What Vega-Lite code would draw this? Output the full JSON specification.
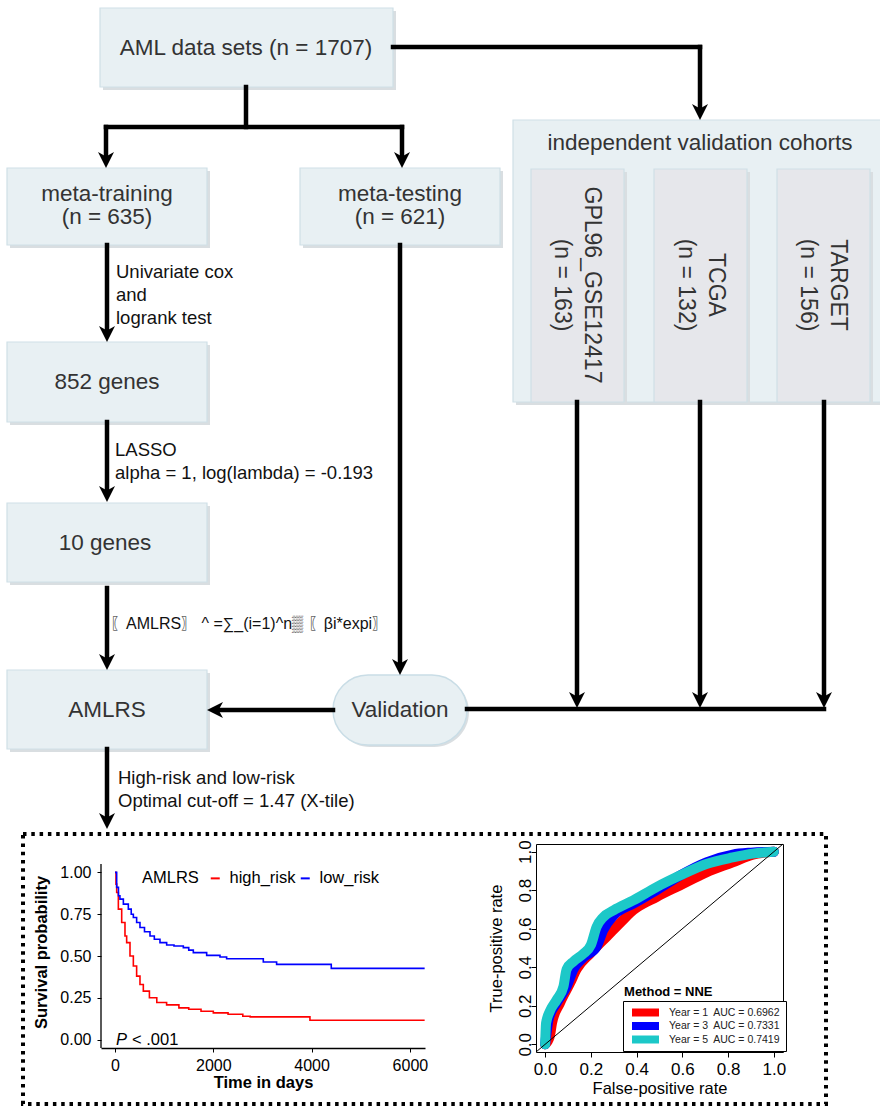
{
  "$schema": "https://vega.github.io/schema/vega-lite/v6.json",
  "padding": 0,
  "background": "white",
  "spacing": 0,
  "bounds": "flush",
  "resolve": {"scale": {"color": "independent", "fill": "independent", "shape": "independent"}, "legend": {"color": "independent"}},
  "config": {
    "view": {"stroke": null},
    "font": "Liberation Sans",
    "axis": {"grid": false, "labelFont": "Liberation Sans", "titleFont": "Liberation Sans"},
    "legend": {"labelFont": "Liberation Sans", "titleFont": "Liberation Sans"}
  },
  "datasets": {
    "container": [
      {"x": 513, "x2": 884, "y": 120, "y2": 402}
    ],
    "boxes": [
      {"kind": "box", "x": 100, "x2": 393, "y": 8, "y2": 87},
      {"kind": "box", "x": 7, "x2": 207, "y": 168, "y2": 245},
      {"kind": "box", "x": 300, "x2": 500, "y": 168, "y2": 245},
      {"kind": "box", "x": 7, "x2": 207, "y": 342, "y2": 422},
      {"kind": "box", "x": 7, "x2": 207, "y": 503, "y2": 582},
      {"kind": "box", "x": 7, "x2": 207, "y": 670, "y2": 749},
      {"kind": "cohort", "x": 531, "x2": 624, "y": 169, "y2": 402},
      {"kind": "cohort", "x": 654, "x2": 747, "y": 169, "y2": 402},
      {"kind": "cohort", "x": 777, "x2": 870, "y": 169, "y2": 402}
    ],
    "pill": [{"x": 333, "x2": 467, "y": 675, "y2": 745}],
    "frame": [{"x": 23, "x2": 826, "y": 834, "y2": 1104}],
    "edges": [
      {"x": 246, "y": 87, "x2": 246, "y2": 127},
      {"x": 106, "y": 127, "x2": 402, "y2": 127},
      {"x": 106, "y": 127, "x2": 106, "y2": 160},
      {"x": 402, "y": 127, "x2": 402, "y2": 160},
      {"x": 393, "y": 47, "x2": 700, "y2": 47},
      {"x": 700, "y": 47, "x2": 700, "y2": 112},
      {"x": 107, "y": 245, "x2": 107, "y2": 334},
      {"x": 107, "y": 422, "x2": 107, "y2": 494},
      {"x": 107, "y": 588, "x2": 107, "y2": 662},
      {"x": 107, "y": 749, "x2": 107, "y2": 821},
      {"x": 400, "y": 245, "x2": 400, "y2": 667},
      {"x": 333, "y": 710, "x2": 215, "y2": 710},
      {"x": 467, "y": 709, "x2": 824, "y2": 709},
      {"x": 577, "y": 402, "x2": 577, "y2": 700},
      {"x": 700, "y": 402, "x2": 700, "y2": 700},
      {"x": 824, "y": 402, "x2": 824, "y2": 700}
    ],
    "arrows": [
      {"x": 106, "y": 160, "dir": "down"},
      {"x": 402, "y": 160, "dir": "down"},
      {"x": 700, "y": 112, "dir": "down"},
      {"x": 107, "y": 334, "dir": "down"},
      {"x": 107, "y": 494, "dir": "down"},
      {"x": 107, "y": 662, "dir": "down"},
      {"x": 107, "y": 821, "dir": "down"},
      {"x": 400, "y": 667, "dir": "down"},
      {"x": 577, "y": 700, "dir": "down"},
      {"x": 700, "y": 700, "dir": "down"},
      {"x": 824, "y": 700, "dir": "down"},
      {"x": 215, "y": 710, "dir": "left"}
    ],
    "boxtext": [
      {"x": 246, "y": 48, "label": "AML data sets (n = 1707)"},
      {"x": 107, "y": 193.5, "label": "meta-training\n(n = 635)"},
      {"x": 400, "y": 193.5, "label": "meta-testing\n(n = 621)"},
      {"x": 700, "y": 143, "label": "independent validation cohorts"},
      {"x": 107, "y": 382, "label": "852 genes"},
      {"x": 105, "y": 543, "label": "10 genes"},
      {"x": 107, "y": 710, "label": "AMLRS"},
      {"x": 400, "y": 710, "label": "Validation"}
    ],
    "rottext": [
      {"x": 592, "y": 285, "label": "GPL96_GSE12417\n(n = 163)"},
      {"x": 716, "y": 285, "label": "TCGA\n(n = 132)"},
      {"x": 838, "y": 285, "label": "TARGET\n(n = 156)"}
    ],
    "edgetext": [
      {"x": 116, "y": 272, "label": "Univariate cox\nand\nlogrank test"},
      {"x": 115, "y": 450, "label": "LASSO\nalpha = 1, log(lambda) = -0.193"},
      {"x": 118, "y": 778, "label": "High-risk and low-risk\nOptimal cut-off = 1.47 (X-tile)"}
    ],
    "formula": [
      {"x": 110, "y": 624, "label": "〖AMLRS〗 ^ =∑_(i=1)^n▒ 〖βi*expi〗"}
    ],
    "km": [
      {"group": "high_risk", "time": 0, "surv": 1.0},
      {"group": "high_risk", "time": 20, "surv": 0.93},
      {"group": "high_risk", "time": 34, "surv": 0.88},
      {"group": "high_risk", "time": 68, "surv": 0.78},
      {"group": "high_risk", "time": 136, "surv": 0.70},
      {"group": "high_risk", "time": 203, "surv": 0.62},
      {"group": "high_risk", "time": 237, "surv": 0.58},
      {"group": "high_risk", "time": 305, "surv": 0.50},
      {"group": "high_risk", "time": 373, "surv": 0.44},
      {"group": "high_risk", "time": 440, "surv": 0.38},
      {"group": "high_risk", "time": 508, "surv": 0.33},
      {"group": "high_risk", "time": 576, "surv": 0.29},
      {"group": "high_risk", "time": 700, "surv": 0.25},
      {"group": "high_risk", "time": 850, "surv": 0.222},
      {"group": "high_risk", "time": 1050, "surv": 0.208},
      {"group": "high_risk", "time": 1300, "surv": 0.19},
      {"group": "high_risk", "time": 1500, "surv": 0.182},
      {"group": "high_risk", "time": 1750, "surv": 0.17},
      {"group": "high_risk", "time": 2000, "surv": 0.16},
      {"group": "high_risk", "time": 2300, "surv": 0.152},
      {"group": "high_risk", "time": 2600, "surv": 0.14},
      {"group": "high_risk", "time": 2750, "surv": 0.136},
      {"group": "high_risk", "time": 3966, "surv": 0.116},
      {"group": "high_risk", "time": 6300, "surv": 0.116},
      {"group": "low_risk", "time": 0, "surv": 1.0},
      {"group": "low_risk", "time": 34, "surv": 0.91},
      {"group": "low_risk", "time": 70, "surv": 0.86},
      {"group": "low_risk", "time": 100, "surv": 0.84},
      {"group": "low_risk", "time": 170, "surv": 0.81},
      {"group": "low_risk", "time": 271, "surv": 0.78},
      {"group": "low_risk", "time": 330, "surv": 0.75},
      {"group": "low_risk", "time": 373, "surv": 0.73},
      {"group": "low_risk", "time": 440, "surv": 0.70},
      {"group": "low_risk", "time": 508, "surv": 0.67},
      {"group": "low_risk", "time": 600, "surv": 0.645},
      {"group": "low_risk", "time": 712, "surv": 0.62},
      {"group": "low_risk", "time": 800, "surv": 0.60},
      {"group": "low_risk", "time": 915, "surv": 0.58},
      {"group": "low_risk", "time": 1051, "surv": 0.566},
      {"group": "low_risk", "time": 1200, "surv": 0.56},
      {"group": "low_risk", "time": 1390, "surv": 0.55},
      {"group": "low_risk", "time": 1500, "surv": 0.535},
      {"group": "low_risk", "time": 1593, "surv": 0.52},
      {"group": "low_risk", "time": 1865, "surv": 0.504},
      {"group": "low_risk", "time": 2136, "surv": 0.494},
      {"group": "low_risk", "time": 2271, "surv": 0.484},
      {"group": "low_risk", "time": 3017, "surv": 0.464},
      {"group": "low_risk", "time": 3288, "surv": 0.45},
      {"group": "low_risk", "time": 4400, "surv": 0.426},
      {"group": "low_risk", "time": 6300, "surv": 0.426}
    ],
    "roc": [
      {"year": "Year = 1\u00a0 AUC = 0.6962", "fpr": 0, "tpr": 0},
      {"year": "Year = 1\u00a0 AUC = 0.6962", "fpr": 0.02, "tpr": 0.04},
      {"year": "Year = 1\u00a0 AUC = 0.6962", "fpr": 0.03, "tpr": 0.11},
      {"year": "Year = 1\u00a0 AUC = 0.6962", "fpr": 0.065, "tpr": 0.215},
      {"year": "Year = 1\u00a0 AUC = 0.6962", "fpr": 0.11, "tpr": 0.32},
      {"year": "Year = 1\u00a0 AUC = 0.6962", "fpr": 0.138, "tpr": 0.39},
      {"year": "Year = 1\u00a0 AUC = 0.6962", "fpr": 0.196, "tpr": 0.47},
      {"year": "Year = 1\u00a0 AUC = 0.6962", "fpr": 0.27, "tpr": 0.56},
      {"year": "Year = 1\u00a0 AUC = 0.6962", "fpr": 0.34, "tpr": 0.645},
      {"year": "Year = 1\u00a0 AUC = 0.6962", "fpr": 0.385, "tpr": 0.696},
      {"year": "Year = 1\u00a0 AUC = 0.6962", "fpr": 0.487, "tpr": 0.765},
      {"year": "Year = 1\u00a0 AUC = 0.6962", "fpr": 0.589, "tpr": 0.825},
      {"year": "Year = 1\u00a0 AUC = 0.6962", "fpr": 0.705, "tpr": 0.893},
      {"year": "Year = 1\u00a0 AUC = 0.6962", "fpr": 0.82, "tpr": 0.945},
      {"year": "Year = 1\u00a0 AUC = 0.6962", "fpr": 0.908, "tpr": 0.985},
      {"year": "Year = 1\u00a0 AUC = 0.6962", "fpr": 1, "tpr": 1},
      {"year": "Year = 3\u00a0 AUC = 0.7331", "fpr": 0, "tpr": 0},
      {"year": "Year = 3\u00a0 AUC = 0.7331", "fpr": 0.005, "tpr": 0.05},
      {"year": "Year = 3\u00a0 AUC = 0.7331", "fpr": 0.015, "tpr": 0.13},
      {"year": "Year = 3\u00a0 AUC = 0.7331", "fpr": 0.05, "tpr": 0.215},
      {"year": "Year = 3\u00a0 AUC = 0.7331", "fpr": 0.094, "tpr": 0.30},
      {"year": "Year = 3\u00a0 AUC = 0.7331", "fpr": 0.124, "tpr": 0.39},
      {"year": "Year = 3\u00a0 AUC = 0.7331", "fpr": 0.167, "tpr": 0.45},
      {"year": "Year = 3\u00a0 AUC = 0.7331", "fpr": 0.225, "tpr": 0.507},
      {"year": "Year = 3\u00a0 AUC = 0.7331", "fpr": 0.254, "tpr": 0.593},
      {"year": "Year = 3\u00a0 AUC = 0.7331", "fpr": 0.30, "tpr": 0.67},
      {"year": "Year = 3\u00a0 AUC = 0.7331", "fpr": 0.385, "tpr": 0.73},
      {"year": "Year = 3\u00a0 AUC = 0.7331", "fpr": 0.487, "tpr": 0.80},
      {"year": "Year = 3\u00a0 AUC = 0.7331", "fpr": 0.589, "tpr": 0.876},
      {"year": "Year = 3\u00a0 AUC = 0.7331", "fpr": 0.705, "tpr": 0.945},
      {"year": "Year = 3\u00a0 AUC = 0.7331", "fpr": 0.82, "tpr": 0.985},
      {"year": "Year = 3\u00a0 AUC = 0.7331", "fpr": 0.9, "tpr": 0.995},
      {"year": "Year = 3\u00a0 AUC = 0.7331", "fpr": 1, "tpr": 1},
      {"year": "Year = 5\u00a0 AUC = 0.7419", "fpr": 0, "tpr": 0},
      {"year": "Year = 5\u00a0 AUC = 0.7419", "fpr": 0.004, "tpr": 0.11},
      {"year": "Year = 5\u00a0 AUC = 0.7419", "fpr": 0.02, "tpr": 0.17},
      {"year": "Year = 5\u00a0 AUC = 0.7419", "fpr": 0.05, "tpr": 0.23},
      {"year": "Year = 5\u00a0 AUC = 0.7419", "fpr": 0.08, "tpr": 0.30},
      {"year": "Year = 5\u00a0 AUC = 0.7419", "fpr": 0.094, "tpr": 0.39},
      {"year": "Year = 5\u00a0 AUC = 0.7419", "fpr": 0.124, "tpr": 0.43},
      {"year": "Year = 5\u00a0 AUC = 0.7419", "fpr": 0.167, "tpr": 0.47},
      {"year": "Year = 5\u00a0 AUC = 0.7419", "fpr": 0.20, "tpr": 0.515},
      {"year": "Year = 5\u00a0 AUC = 0.7419", "fpr": 0.225, "tpr": 0.61},
      {"year": "Year = 5\u00a0 AUC = 0.7419", "fpr": 0.254, "tpr": 0.66},
      {"year": "Year = 5\u00a0 AUC = 0.7419", "fpr": 0.30, "tpr": 0.696},
      {"year": "Year = 5\u00a0 AUC = 0.7419", "fpr": 0.385, "tpr": 0.747},
      {"year": "Year = 5\u00a0 AUC = 0.7419", "fpr": 0.487, "tpr": 0.816},
      {"year": "Year = 5\u00a0 AUC = 0.7419", "fpr": 0.589, "tpr": 0.876},
      {"year": "Year = 5\u00a0 AUC = 0.7419", "fpr": 0.705, "tpr": 0.936},
      {"year": "Year = 5\u00a0 AUC = 0.7419", "fpr": 0.82, "tpr": 0.97},
      {"year": "Year = 5\u00a0 AUC = 0.7419", "fpr": 0.908, "tpr": 0.99},
      {"year": "Year = 5\u00a0 AUC = 0.7419", "fpr": 1, "tpr": 1}
    ]
  },
  "vconcat": [
    {
      "width": 880,
      "height": 844,
      "layer": [
        {
          "data": {"name": "container"},
          "mark": {"type": "rect", "fill": "#D9DEE1", "xOffset": 3, "x2Offset": 3, "yOffset": 3, "y2Offset": 3, "clip": true},
          "encoding": {
            "x": {"field": "x", "type": "quantitative", "scale": {"domain": [0, 880], "nice": false, "zero": false}, "axis": null},
            "x2": {"field": "x2"},
            "y": {"field": "y", "type": "quantitative", "scale": {"domain": [0, 844], "reverse": true, "nice": false, "zero": false}, "axis": null},
            "y2": {"field": "y2"}
          }
        },
        {
          "data": {"name": "container"},
          "mark": {"type": "rect", "fill": "#E8F0F3", "stroke": "#CFE0E7", "strokeWidth": 1.2, "clip": true},
          "encoding": {
            "x": {"field": "x", "type": "quantitative", "scale": {"domain": [0, 880], "nice": false, "zero": false}, "axis": null},
            "x2": {"field": "x2"},
            "y": {"field": "y", "type": "quantitative", "scale": {"domain": [0, 844], "reverse": true, "nice": false, "zero": false}, "axis": null},
            "y2": {"field": "y2"}
          }
        },
        {
          "data": {"name": "boxes"},
          "mark": {"type": "rect", "fill": "#D9DEE1", "xOffset": 3, "x2Offset": 3, "yOffset": 3, "y2Offset": 3},
          "encoding": {
            "x": {"field": "x", "type": "quantitative", "scale": {"domain": [0, 880], "nice": false, "zero": false}, "axis": null},
            "x2": {"field": "x2"},
            "y": {"field": "y", "type": "quantitative", "scale": {"domain": [0, 844], "reverse": true, "nice": false, "zero": false}, "axis": null},
            "y2": {"field": "y2"}
          }
        },
        {
          "data": {"name": "boxes"},
          "mark": {"type": "rect", "stroke": "#CFE0E7", "strokeWidth": 1.2},
          "encoding": {
            "x": {"field": "x", "type": "quantitative", "scale": {"domain": [0, 880], "nice": false, "zero": false}, "axis": null},
            "x2": {"field": "x2"},
            "y": {"field": "y", "type": "quantitative", "scale": {"domain": [0, 844], "reverse": true, "nice": false, "zero": false}, "axis": null},
            "y2": {"field": "y2"},
            "fill": {"field": "kind", "type": "nominal", "scale": {"domain": ["box", "cohort"], "range": ["#E8F0F3", "#E6E7EB"]}, "legend": null}
          }
        },
        {
          "data": {"name": "pill"},
          "mark": {"type": "rect", "fill": "#D9DEE1", "cornerRadius": 35, "xOffset": 2, "x2Offset": 2, "yOffset": 2, "y2Offset": 2},
          "encoding": {
            "x": {"field": "x", "type": "quantitative", "scale": {"domain": [0, 880], "nice": false, "zero": false}, "axis": null},
            "x2": {"field": "x2"},
            "y": {"field": "y", "type": "quantitative", "scale": {"domain": [0, 844], "reverse": true, "nice": false, "zero": false}, "axis": null},
            "y2": {"field": "y2"}
          }
        },
        {
          "data": {"name": "pill"},
          "mark": {"type": "rect", "fill": "#E8F0F3", "stroke": "#C9DDE6", "strokeWidth": 1.5, "cornerRadius": 35},
          "encoding": {
            "x": {"field": "x", "type": "quantitative", "scale": {"domain": [0, 880], "nice": false, "zero": false}, "axis": null},
            "x2": {"field": "x2"},
            "y": {"field": "y", "type": "quantitative", "scale": {"domain": [0, 844], "reverse": true, "nice": false, "zero": false}, "axis": null},
            "y2": {"field": "y2"}
          }
        },
        {
          "data": {"name": "frame"},
          "mark": {"type": "rect", "fill": null, "stroke": "black", "strokeWidth": 4, "strokeDash": [3.5, 4.8]},
          "encoding": {
            "x": {"field": "x", "type": "quantitative", "scale": {"domain": [0, 880], "nice": false, "zero": false}, "axis": null},
            "x2": {"field": "x2"},
            "y": {"field": "y", "type": "quantitative", "scale": {"domain": [0, 844], "reverse": true, "nice": false, "zero": false}, "axis": null},
            "y2": {"field": "y2"}
          }
        },
        {
          "data": {"name": "edges"},
          "mark": {"type": "rule", "color": "black", "strokeWidth": 4.5, "strokeCap": "square"},
          "encoding": {
            "x": {"field": "x", "type": "quantitative", "scale": {"domain": [0, 880], "nice": false, "zero": false}, "axis": null},
            "x2": {"field": "x2"},
            "y": {"field": "y", "type": "quantitative", "scale": {"domain": [0, 844], "reverse": true, "nice": false, "zero": false}, "axis": null},
            "y2": {"field": "y2"}
          }
        },
        {
          "data": {"name": "arrows"},
          "mark": {"type": "point", "filled": true, "color": "black", "opacity": 1, "size": 256, "strokeWidth": 0},
          "encoding": {
            "x": {"field": "x", "type": "quantitative", "scale": {"domain": [0, 880], "nice": false, "zero": false}, "axis": null},
            "y": {"field": "y", "type": "quantitative", "scale": {"domain": [0, 844], "reverse": true, "nice": false, "zero": false}, "axis": null},
            "shape": {"field": "dir", "type": "nominal", "scale": {"domain": ["down", "left"], "range": ["M0,1L-1,-1L0,-0.45L1,-1Z", "M-1,0L1,-1L0.45,0L1,1Z"]}, "legend": null}
          }
        },
        {
          "data": {"name": "boxtext"},
          "mark": {"type": "text", "fontSize": 22.5, "fill": "#333333", "align": "center", "baseline": "middle", "lineBreak": "\n", "lineHeight": 23},
          "encoding": {
            "x": {"field": "x", "type": "quantitative", "scale": {"domain": [0, 880], "nice": false, "zero": false}, "axis": null},
            "y": {"field": "y", "type": "quantitative", "scale": {"domain": [0, 844], "reverse": true, "nice": false, "zero": false}, "axis": null},
            "text": {"field": "label"}
          }
        },
        {
          "data": {"name": "rottext"},
          "mark": {"type": "text", "fontSize": 23, "fill": "#333333", "align": "center", "baseline": "middle", "angle": 90, "lineBreak": "\n", "lineHeight": 30},
          "encoding": {
            "x": {"field": "x", "type": "quantitative", "scale": {"domain": [0, 880], "nice": false, "zero": false}, "axis": null},
            "y": {"field": "y", "type": "quantitative", "scale": {"domain": [0, 844], "reverse": true, "nice": false, "zero": false}, "axis": null},
            "text": {"field": "label"}
          }
        },
        {
          "data": {"name": "edgetext"},
          "mark": {"type": "text", "fontSize": 18.5, "fill": "#111111", "align": "left", "baseline": "middle", "lineBreak": "\n", "lineHeight": 23},
          "encoding": {
            "x": {"field": "x", "type": "quantitative", "scale": {"domain": [0, 880], "nice": false, "zero": false}, "axis": null},
            "y": {"field": "y", "type": "quantitative", "scale": {"domain": [0, 844], "reverse": true, "nice": false, "zero": false}, "axis": null},
            "text": {"field": "label"}
          }
        },
        {
          "data": {"name": "formula"},
          "mark": {"type": "text", "fontSize": 16, "fill": "#111111", "align": "left", "baseline": "middle"},
          "encoding": {
            "x": {"field": "x", "type": "quantitative", "scale": {"domain": [0, 880], "nice": false, "zero": false}, "axis": null},
            "y": {"field": "y", "type": "quantitative", "scale": {"domain": [0, 844], "reverse": true, "nice": false, "zero": false}, "axis": null},
            "text": {"field": "label"}
          }
        }
      ]
    },
    {
      "spacing": 0,
      "bounds": "flush",
      "resolve": {"scale": {"color": "independent"}, "legend": {"color": "independent"}},
      "hconcat": [
        {
          "width": 101, "height": 10,
          "data": {"values": [{}]},
          "mark": {"type": "point", "opacity": 0},
          "encoding": {}
        },
        {
          "width": 324,
          "height": 204,
          "layer": [
            {
              "data": {"name": "km"},
              "mark": {"type": "line", "interpolate": "step-after", "strokeWidth": 1.6},
              "encoding": {
                "x": {"field": "time", "type": "quantitative", "scale": {"domain": [-285, 6307], "nice": false, "zero": false},
                  "axis": {"values": [0, 2000, 4000, 6000], "format": "d", "title": "Time in days", "titleFontSize": 16.5, "titleFontWeight": "bold", "titleColor": "black", "titlePadding": 1, "labelFontSize": 16, "labelColor": "black", "labelPadding": 5, "tickColor": "black", "tickSize": 4, "domainColor": "black", "domainWidth": 1.3, "labelFlush": false}},
                "y": {"field": "surv", "type": "quantitative", "scale": {"domain": [-0.05, 1.1696], "nice": false, "zero": false},
                  "axis": {"values": [0, 0.25, 0.5, 0.75, 1], "format": ".2f", "domain": false, "title": "Survival probability", "titleFontSize": 16.5, "titleFontWeight": "bold", "titleColor": "black", "titlePadding": 10, "titleY": 108, "labelFontSize": 16, "labelColor": "black", "labelPadding": 6, "tickColor": "black", "tickSize": 4}},
                "color": {"field": "group", "type": "nominal", "scale": {"domain": ["high_risk", "low_risk"], "range": ["#FF0000", "#0000FF"]},
                  "legend": {"orient": "none", "legendX": 41, "legendY": 26, "direction": "horizontal", "title": "AMLRS", "titleOrient": "left", "titleFontSize": 16.5, "titleFontWeight": "normal", "titleColor": "black", "titlePadding": 8, "labelFontSize": 16.5, "labelColor": "black", "symbolType": "stroke", "symbolSize": 81, "symbolStrokeWidth": 2, "labelOffset": 6, "columnPadding": 0, "padding": 0}}
              }
            },
            {
              "data": {"values": [{}]},
              "mark": {"type": "rule", "color": "black", "strokeWidth": 1.3},
              "encoding": {
                "x": {"datum": -285, "type": "quantitative"},
                "y": {"datum": -0.05, "type": "quantitative"},
                "y2": {"datum": 1.05}
              }
            },
            {
              "data": {"values": [{}]},
              "mark": {"type": "text", "text": "P", "fontStyle": "italic", "fontSize": 16.5, "align": "left", "baseline": "middle", "color": "black"},
              "encoding": {
                "x": {"datum": 20, "type": "quantitative"},
                "y": {"datum": -0.005, "type": "quantitative"}
              }
            },
            {
              "data": {"values": [{}]},
              "mark": {"type": "text", "text": "< .001", "fontSize": 16.5, "align": "left", "baseline": "middle", "color": "black"},
              "encoding": {
                "x": {"datum": 346, "type": "quantitative"},
                "y": {"datum": -0.005, "type": "quantitative"}
              }
            }
          ]
        },
        {
          "width": 111, "height": 10,
          "data": {"values": [{}]},
          "mark": {"type": "point", "opacity": 0},
          "encoding": {}
        },
        {
          "width": 247,
          "height": 208,
          "view": {"stroke": "black", "strokeWidth": 1},
          "layer": [
            {
              "data": {"name": "roc"},
              "mark": {"type": "line", "strokeWidth": 10, "strokeCap": "round", "strokeJoin": "round", "interpolate": "monotone"},
              "encoding": {
                "x": {"field": "fpr", "type": "quantitative", "scale": {"domain": [-0.04, 1.04], "nice": false, "zero": false},
                  "axis": {"values": [0, 0.2, 0.4, 0.6, 0.8, 1], "format": ".1f", "domain": false, "tickColor": "black", "tickSize": 5, "labelFontSize": 17, "labelColor": "black", "labelPadding": 4, "labelFlush": false, "title": "False-positive rate", "titleFontSize": 16.5, "titleFontWeight": "normal", "titleColor": "black", "titlePadding": 3}},
                "y": {"field": "tpr", "type": "quantitative", "scale": {"domain": [-0.04, 1.04], "nice": false, "zero": false},
                  "axis": {"values": [0, 0.2, 0.4, 0.6, 0.8, 1], "format": ".1f", "domain": false, "tickColor": "black", "tickSize": 5, "labelFontSize": 17, "labelColor": "black", "labelAngle": 270, "labelAlign": "center", "labelBaseline": "alphabetic", "labelPadding": 1, "labelFlush": false, "title": "True-positive rate", "titleFontSize": 16.5, "titleFontWeight": "normal", "titleColor": "black", "titlePadding": 12}},
                "color": {"field": "year", "type": "nominal", "scale": {"domain": ["Year = 1\u00a0 AUC = 0.6962", "Year = 3\u00a0 AUC = 0.7331", "Year = 5\u00a0 AUC = 0.7419"], "range": ["#FF0000", "#0000FF", "#1CC8C8"]},
                  "legend": {"orient": "none", "legendX": 87, "legendY": 157, "title": null, "strokeColor": "black", "fillColor": "white", "padding": 5, "symbolType": "stroke", "symbolSize": 729, "symbolStrokeWidth": 8, "clipHeight": 13, "rowPadding": 0.5, "labelFontSize": 10.5, "labelColor": "#222222", "labelOffset": 6, "labelLimit": 200}}
              }
            },
            {
              "data": {"values": [{}]},
              "mark": {"type": "rule", "color": "black", "strokeWidth": 1},
              "encoding": {
                "x": {"datum": -0.04, "type": "quantitative"},
                "y": {"datum": -0.04, "type": "quantitative"},
                "x2": {"datum": 1.04},
                "y2": {"datum": 1.04}
              }
            },
            {
              "data": {"values": [{}]},
              "mark": {"type": "text", "text": "Method = NNE", "fontWeight": "bold", "fontSize": 13, "align": "left", "baseline": "middle", "color": "black"},
              "encoding": {
                "x": {"datum": 0.345, "type": "quantitative"},
                "y": {"datum": 0.273, "type": "quantitative"}
              }
            }
          ]
        }
      ]
    }
  ]
}
